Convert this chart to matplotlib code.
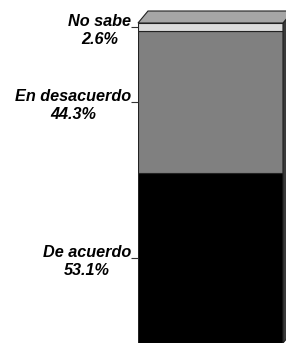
import matplotlib
matplotlib.use("Agg")
import matplotlib.pyplot as plt
from matplotlib.patches import Polygon

categories = ["De acuerdo", "En desacuerdo", "No sabe"]
values = [53.1, 44.3, 2.6]
colors = ["#000000", "#808080", "#dcdcdc"]

W, H = 286, 343
fig = plt.figure(figsize=(W/100, H/100), dpi=100)
ax = fig.add_axes([138/W, 0, (283-138)/W, (H-23)/H])

bottom = 0
mids = []
for v, c in zip(values, colors):
    ax.bar(0, v, bottom=bottom, width=1.0, color=c, edgecolor="#222222", linewidth=0.8, align="center")
    mids.append(bottom + v/2)
    bottom += v
ax.set_xlim(-0.5, 0.5)
ax.set_ylim(0, bottom)

labels = [f"{n}\n{v:.1f}%" for n, v in zip(categories, values)]
ax.set_yticks(mids)
ax.set_yticklabels(labels, fontsize=11.7, fontweight="bold", fontstyle="italic",
                   family=["Liberation Sans", "DejaVu Sans"], ha="right",
                   multialignment="center", linespacing=1.3)
ax.tick_params(axis="y", length=5, width=0.8, pad=0, color="#333333")
ax.set_xticks([])
for s in ax.spines.values():
    s.set_visible(False)

# 3D top and side faces (in axes coords)
dx, dy = 10/145, 12/320
top = Polygon([(0, 1), (1, 1), (1+dx, 1+dy), (dx, 1+dy)], closed=True,
              facecolor="#a6a6a6", edgecolor="#222222", linewidth=0.8,
              transform=ax.transAxes, clip_on=False)
side = Polygon([(1, 0), (1+dx, dy), (1+dx, 1+dy), (1, 1)], closed=True,
               facecolor="#3a3a3a", edgecolor="#222222", linewidth=0.8,
               transform=ax.transAxes, clip_on=False)
ax.add_patch(side)
ax.add_patch(top)

fig.savefig("out.png", dpi=100)
